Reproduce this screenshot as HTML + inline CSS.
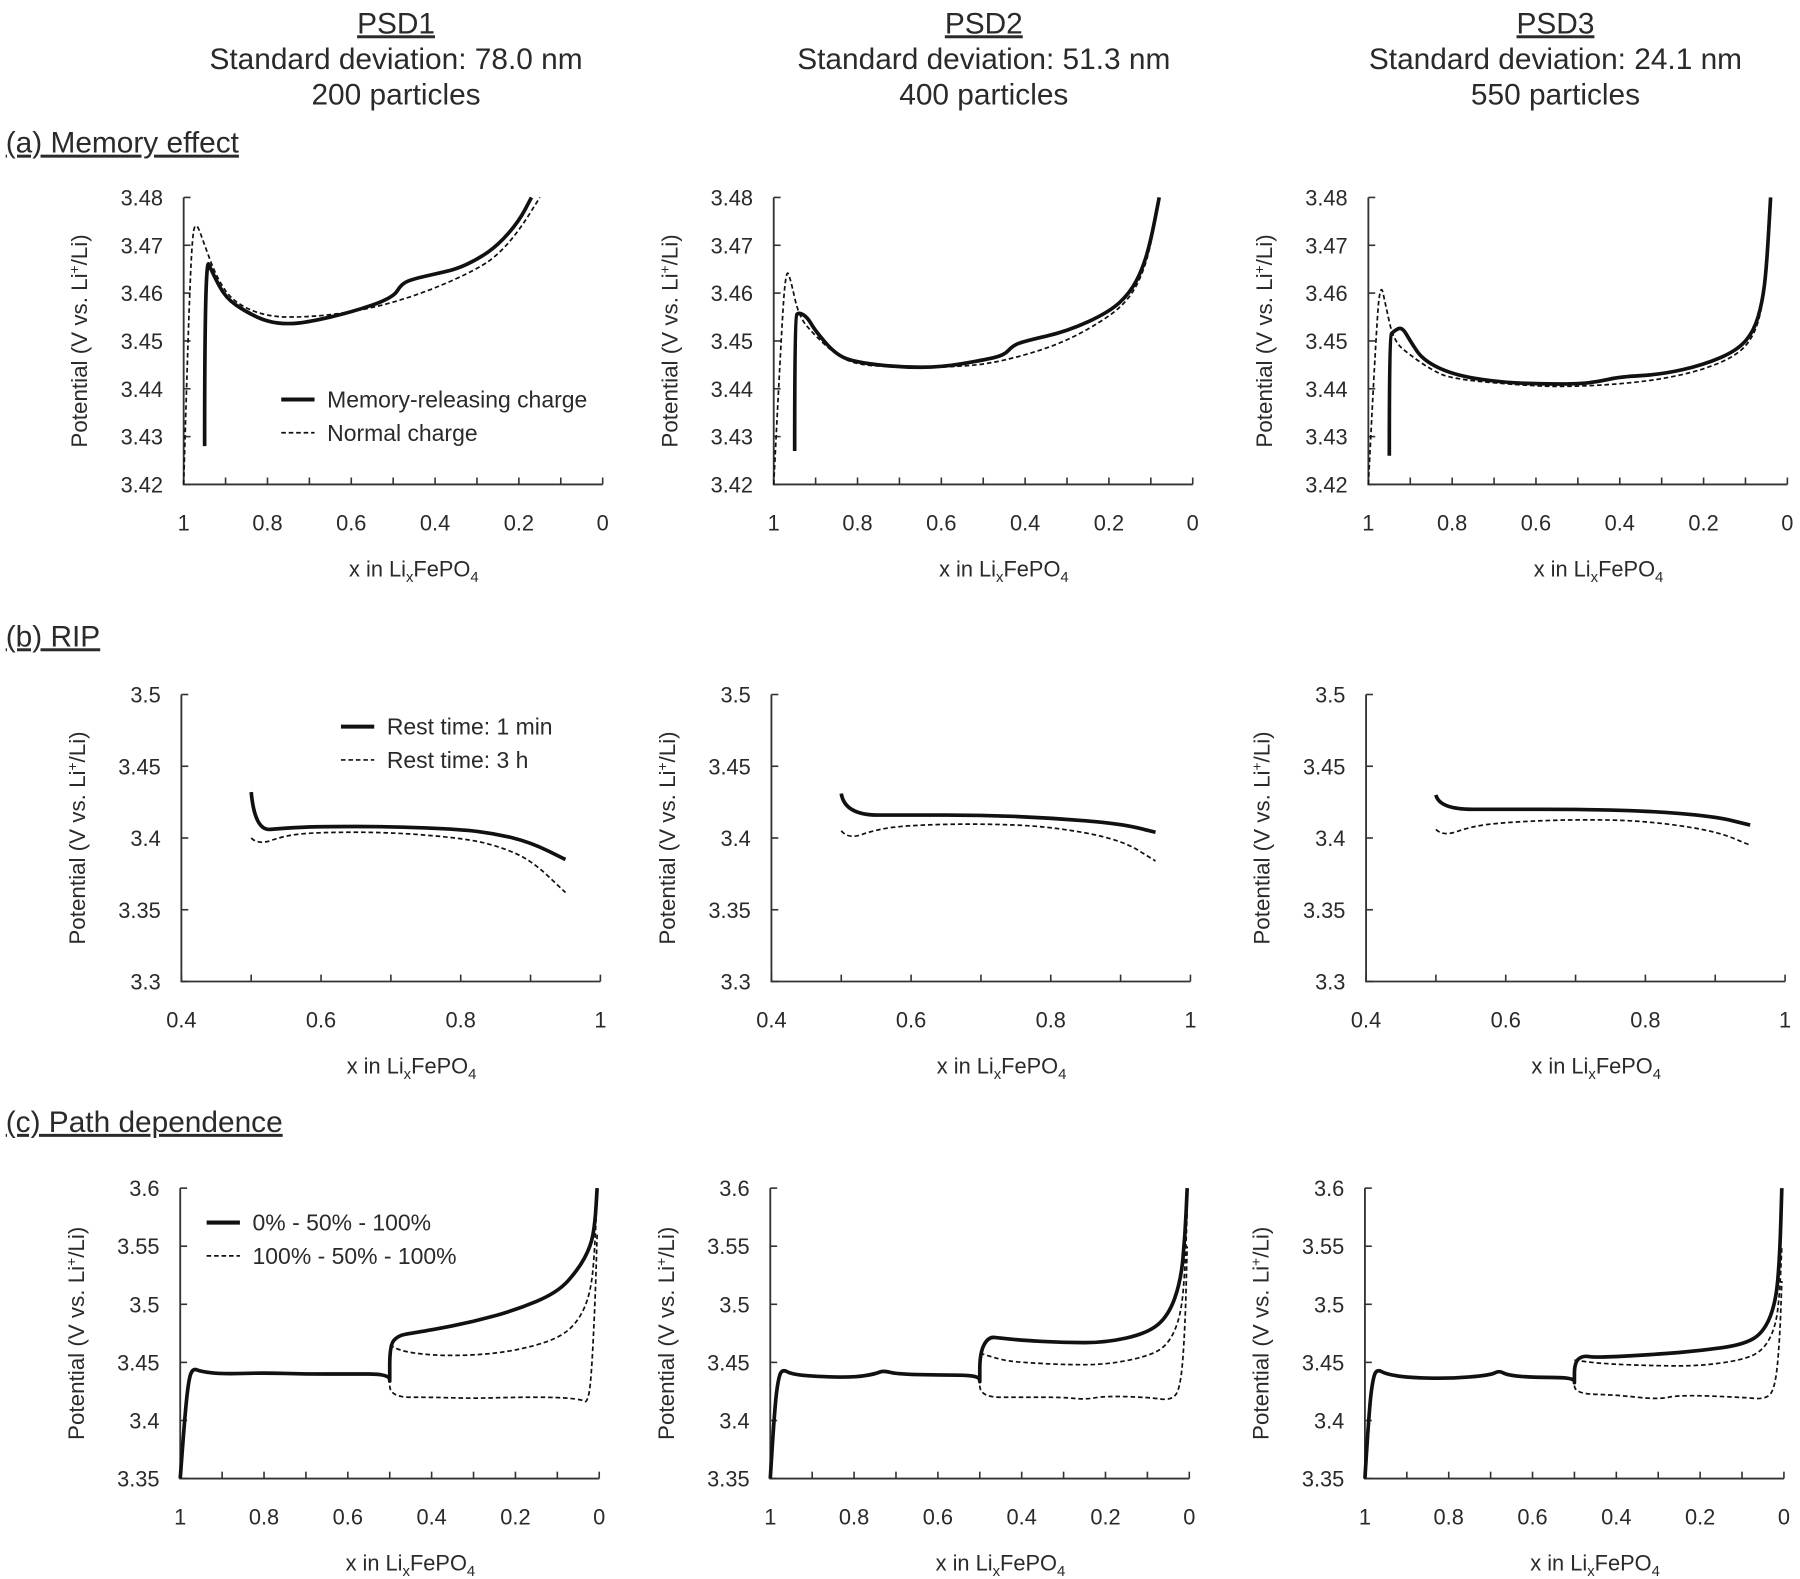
<!DOCTYPE html>
<html><head><meta charset="utf-8">
<style>
html,body{margin:0;padding:0;background:#fff;}
svg{display:block;}
text{font-family:"Liberation Sans",sans-serif;fill:#2a2a2a;}
</style></head>
<body>
<svg id="fig" width="1800" height="1579" viewBox="0 0 1568 1375.5" preserveAspectRatio="none" xmlns="http://www.w3.org/2000/svg">
<g font-size="26" text-anchor="middle">
  <text x="345" y="29" text-decoration="underline">PSD1</text>
  <text x="345" y="60">Standard deviation: 78.0 nm</text>
  <text x="345" y="91">200 particles</text>
  <text x="857" y="29" text-decoration="underline">PSD2</text>
  <text x="857" y="60">Standard deviation: 51.3 nm</text>
  <text x="857" y="91">400 particles</text>
  <text x="1355" y="29" text-decoration="underline">PSD3</text>
  <text x="1355" y="60">Standard deviation: 24.1 nm</text>
  <text x="1355" y="91">550 particles</text>
</g>
<g font-size="26">
  <text x="5" y="133" text-decoration="underline">(a) Memory effect</text>
  <text x="5" y="563" text-decoration="underline">(b) RIP</text>
  <text x="5" y="986" text-decoration="underline">(c) Path dependence</text>
</g>
<g id="plots"></g>
</svg>
<script>
// ---- Data arrays: [x, potential] pairs ----
const memSolid1 = [[0.95,3.428],[0.95,3.468],[0.93,3.464],[0.9,3.459],[0.85,3.456],[0.8,3.454],[0.75,3.4535],[0.7,3.454],[0.6,3.456],[0.5,3.459],[0.48,3.462],[0.45,3.463],[0.4,3.464],[0.35,3.465],[0.3,3.467],[0.25,3.47],[0.2,3.475],[0.17,3.48]];
const memDash1 = [[1,3.42],[0.99,3.45],[0.98,3.472],[0.97,3.475],[0.95,3.47],[0.92,3.463],[0.88,3.458],[0.8,3.455],[0.7,3.455],[0.6,3.456],[0.5,3.458],[0.4,3.461],[0.3,3.465],[0.25,3.468],[0.2,3.473],[0.15,3.48]];
const memSolid2 = [[0.95,3.427],[0.95,3.455],[0.94,3.456],[0.92,3.455],[0.9,3.452],[0.85,3.447],[0.8,3.4455],[0.7,3.4445],[0.6,3.4445],[0.5,3.446],[0.45,3.447],[0.43,3.449],[0.4,3.45],[0.3,3.452],[0.2,3.456],[0.15,3.46],[0.12,3.465],[0.1,3.471],[0.08,3.48]];
const memDash2 = [[1,3.42],[0.98,3.455],[0.97,3.465],[0.96,3.463],[0.94,3.455],[0.9,3.451],[0.85,3.447],[0.8,3.445],[0.7,3.4445],[0.6,3.4445],[0.5,3.445],[0.4,3.447],[0.3,3.45],[0.2,3.455],[0.15,3.459],[0.12,3.464],[0.1,3.47],[0.08,3.48]];
const memSolid3 = [[0.95,3.426],[0.95,3.451],[0.94,3.452],[0.92,3.453],[0.9,3.45],[0.87,3.446],[0.8,3.443],[0.7,3.4415],[0.6,3.441],[0.5,3.441],[0.45,3.4415],[0.4,3.4425],[0.3,3.443],[0.2,3.445],[0.12,3.448],[0.08,3.452],[0.06,3.458],[0.05,3.465],[0.04,3.48]];
const memDash3 = [[1,3.42],[0.98,3.455],[0.97,3.462],[0.96,3.458],[0.94,3.45],[0.9,3.447],[0.85,3.444],[0.8,3.442],[0.6,3.4405],[0.5,3.4405],[0.4,3.441],[0.3,3.442],[0.2,3.444],[0.12,3.447],[0.08,3.451],[0.06,3.457],[0.05,3.465],[0.04,3.48]];

const ripSolid1 = [[0.5,3.432],[0.505,3.405],[0.55,3.407],[0.6,3.408],[0.7,3.408],[0.8,3.406],[0.85,3.403],[0.9,3.397],[0.95,3.385]];
const ripDash1 = [[0.5,3.4],[0.51,3.395],[0.55,3.402],[0.6,3.404],[0.7,3.404],[0.8,3.4],[0.85,3.395],[0.9,3.385],[0.95,3.362]];
const ripSolid2 = [[0.5,3.431],[0.505,3.416],[0.6,3.416],[0.7,3.416],[0.8,3.414],[0.9,3.41],[0.95,3.404]];
const ripDash2 = [[0.5,3.405],[0.51,3.399],[0.55,3.406],[0.6,3.409],[0.7,3.41],[0.8,3.408],[0.9,3.399],[0.95,3.384]];
const ripSolid3 = [[0.5,3.43],[0.505,3.42],[0.6,3.42],[0.7,3.42],[0.8,3.419],[0.9,3.415],[0.95,3.409]];
const ripDash3 = [[0.5,3.406],[0.51,3.401],[0.55,3.408],[0.6,3.411],[0.7,3.413],[0.8,3.412],[0.9,3.405],[0.95,3.395]];

const pathSolid1 = [[1,3.35],[0.99,3.4],[0.98,3.435],[0.97,3.445],[0.95,3.442],[0.9,3.44],[0.8,3.441],[0.7,3.44],[0.6,3.44],[0.5,3.44],[0.5,3.43],[0.5,3.465],[0.48,3.473],[0.45,3.475],[0.4,3.478],[0.3,3.485],[0.2,3.495],[0.1,3.51],[0.05,3.53],[0.02,3.55],[0.01,3.57],[0.005,3.6]];
const pathDashA1 = [[0.5,3.465],[0.48,3.46],[0.4,3.456],[0.3,3.456],[0.2,3.46],[0.1,3.47],[0.05,3.485],[0.02,3.51],[0.01,3.55],[0.005,3.6]];
const pathDashB1 = [[0.5,3.43],[0.5,3.42],[0.4,3.42],[0.3,3.419],[0.2,3.42],[0.1,3.42],[0.04,3.418],[0.03,3.415],[0.02,3.43],[0.01,3.5],[0.005,3.56]];
const pathSolid2 = [[1,3.35],[0.99,3.41],[0.98,3.438],[0.97,3.444],[0.95,3.44],[0.9,3.438],[0.8,3.437],[0.75,3.44],[0.73,3.443],[0.7,3.44],[0.6,3.439],[0.5,3.439],[0.5,3.43],[0.5,3.458],[0.48,3.472],[0.45,3.471],[0.4,3.469],[0.3,3.467],[0.2,3.467],[0.1,3.475],[0.05,3.49],[0.02,3.52],[0.01,3.56],[0.005,3.6]];
const pathDashA2 = [[0.5,3.458],[0.45,3.452],[0.4,3.45],[0.3,3.448],[0.2,3.448],[0.1,3.455],[0.05,3.465],[0.02,3.49],[0.01,3.53],[0.005,3.58]];
const pathDashB2 = [[0.5,3.43],[0.5,3.42],[0.4,3.42],[0.3,3.42],[0.25,3.418],[0.2,3.421],[0.1,3.42],[0.04,3.417],[0.02,3.43],[0.01,3.48],[0.005,3.55]];
const pathSolid3 = [[1,3.35],[0.99,3.41],[0.98,3.438],[0.97,3.444],[0.95,3.44],[0.9,3.437],[0.8,3.436],[0.7,3.439],[0.68,3.443],[0.66,3.439],[0.6,3.437],[0.5,3.437],[0.5,3.43],[0.5,3.45],[0.48,3.456],[0.45,3.454],[0.3,3.457],[0.2,3.46],[0.1,3.465],[0.05,3.475],[0.02,3.5],[0.01,3.54],[0.005,3.6]];
const pathDashA3 = [[0.5,3.452],[0.45,3.449],[0.3,3.447],[0.2,3.447],[0.1,3.452],[0.05,3.46],[0.02,3.48],[0.01,3.51],[0.005,3.55]];
const pathDashB3 = [[0.5,3.43],[0.5,3.423],[0.4,3.422],[0.3,3.418],[0.25,3.422],[0.1,3.42],[0.04,3.418],[0.02,3.43],[0.01,3.47],[0.005,3.52]];

// ---- Axis/tick label arrays ----
const memYTicks = [3.42,3.43,3.44,3.45,3.46,3.47,3.48];
const memYLabels = ["3.42","3.43","3.44","3.45","3.46","3.47","3.48"];
const revXTicks = [1,0.8,0.6,0.4,0.2,0];
const revXLabels = ["1","0.8","0.6","0.4","0.2","0"];
const ripYTicks = [3.3,3.35,3.4,3.45,3.5];
const ripYLabels = ["3.3","3.35","3.4","3.45","3.5"];
const ripXTicks = [0.4,0.6,0.8,1];
const ripXLabels = ["0.4","0.6","0.8","1"];
const pathYTicks = [3.35,3.4,3.45,3.5,3.55,3.6];
const pathYLabels = ["3.35","3.4","3.45","3.5","3.55","3.6"];

const memLegend = ["Memory-releasing charge","Normal charge"];
const ripLegend = ["Rest time: 1 min","Rest time: 3 h"];
const pathLegend = ["0% - 50% - 100%","100% - 50% - 100%"];

const NS = "http://www.w3.org/2000/svg";
const root = document.getElementById("plots");
function mk(tag, attrs, parent){const e=document.createElementNS(NS,tag);for(const k in attrs)e.setAttribute(k,attrs[k]);parent.appendChild(e);return e;}

const colLeft = [160,674,1192];
const W = 365;

function smoothPath(pts){
  if(pts.length<3) return pts.map((p,i)=>(i?"L":"M")+p[0].toFixed(2)+","+p[1].toFixed(2)).join(" ");
  let d = "M"+pts[0][0].toFixed(2)+","+pts[0][1].toFixed(2);
  for(let i=1;i<pts.length-1;i++){
    const mx=(pts[i][0]+pts[i+1][0])/2, my=(pts[i][1]+pts[i+1][1])/2;
    d += " Q"+pts[i][0].toFixed(2)+","+pts[i][1].toFixed(2)+" "+mx.toFixed(2)+","+my.toFixed(2);
  }
  const l=pts[pts.length-1];
  d += " L"+l[0].toFixed(2)+","+l[1].toFixed(2);
  return d;
}

function drawPanel(id, left, top, bottom, xmin, xmax, reversed, ymin, ymax, yTicks, yLabels, xTicks, xLabels, minorStep, series, legend, legendPos){
  const g = mk("g",{},root);
  
  
  const sx = v => reversed ? left + (xmax - v)/(xmax-xmin)*W : left + (v - xmin)/(xmax-xmin)*W;
  const sy = v => bottom - (v - ymin)/(ymax-ymin)*(bottom-top);
  const ax = mk("path",{d:`M${left},${top} V${bottom} H${left+W}`,stroke:"#333","stroke-width":1.6,fill:"none"},g);
  
  
  yTicks.forEach((t,i)=>{
    mk("line",{x1:left,x2:left+6,y1:sy(t),y2:sy(t),stroke:"#333","stroke-width":1.4},g);
    const tx = mk("text",{x:left-18,y:sy(t)+7,"font-size":19,"text-anchor":"end"},g);
    tx.textContent = yLabels[i];
    
    
  });
  for(let v=xmin; v<=xmax+1e-9; v+=minorStep){
    mk("line",{x1:sx(v),x2:sx(v),y1:bottom,y2:bottom-6,stroke:"#333","stroke-width":1.4},g);
  }
  xTicks.forEach((t,i)=>{
    const tx = mk("text",{x:sx(t),y:bottom+40,"font-size":19,"text-anchor":"middle"},g);
    tx.textContent = xLabels[i];
    
    
  });
  const xt = mk("text",{x:left+W/2+18,y:bottom+80,"font-size":19,"text-anchor":"middle"},g);
  xt.innerHTML = 'x in Li<tspan font-size="13" dy="5">x</tspan><tspan dy="-5">FePO</tspan><tspan font-size="13" dy="5">4</tspan>';
  
  
  const ymid = (top+bottom)/2;
  const yt = mk("text",{x:0,y:0,"font-size":19.5,"text-anchor":"middle",transform:`translate(${left-84},${ymid}) rotate(-90)`},g);
  yt.innerHTML = 'Potential (V vs. Li<tspan font-size="12" dy="-7">+</tspan><tspan dy="7">/Li)</tspan>';
  
  
  series.forEach(s=>{
    const pts = s.data.map(p=>[sx(p[0]),sy(p[1])]);
    const p = mk("path",{d:smoothPath(pts),fill:"none",stroke:"#111","stroke-width":s.solid?3.2:1.5,"stroke-dasharray":s.solid?"none":"4 2.5","stroke-linejoin":"round"},g);
    
    
  });
  if(legend){
    const [lx,ly] = legendPos;
    const lg = mk("g",{},g);
    
    
    legend.forEach((lab,i)=>{
      const y = ly + i*29;
      mk("line",{x1:lx,x2:lx+29,y1:y,y2:y,stroke:"#111","stroke-width":i?1.5:3.5,"stroke-dasharray":i?"4 2.5":"none"},lg);
      const t = mk("text",{x:lx+40,y:y+7,"font-size":20},lg);
      t.textContent = lab;
      
      
    });
  }
}

const memS=[memSolid1,memSolid2,memSolid3], memD=[memDash1,memDash2,memDash3];
const ripS=[ripSolid1,ripSolid2,ripSolid3], ripD=[ripDash1,ripDash2,ripDash3];
const pS=[pathSolid1,pathSolid2,pathSolid3], pA=[pathDashA1,pathDashA2,pathDashA3], pB=[pathDashB1,pathDashB2,pathDashB3];
for(let c=0;c<3;c++){
  drawPanel("memory-panel-psd"+(c+1), colLeft[c], 172, 422, 0, 1, true, 3.42, 3.48, memYTicks, memYLabels, revXTicks, revXLabels, 0.1,
    [{data:memD[c],solid:false,name:"normal-charge-line"},{data:memS[c],solid:true,name:"memory-releasing-line"}],
    c===0?memLegend:null,[245,348]);
  drawPanel("rip-panel-psd"+(c+1), colLeft[c]-2, 605, 855, 0.4, 1, false, 3.3, 3.5, ripYTicks, ripYLabels, ripXTicks, ripXLabels, 0.1,
    [{data:ripD[c],solid:false,name:"rest-3h-line"},{data:ripS[c],solid:true,name:"rest-1min-line"}],
    c===0?ripLegend:null,[297,633]);
  drawPanel("path-panel-psd"+(c+1), colLeft[c]-3, 1035, 1288, 0, 1, true, 3.35, 3.6, pathYTicks, pathYLabels, revXTicks, revXLabels, 0.1,
    [{data:pA[c],solid:false,name:"path-100-50-100-upper"},{data:pB[c],solid:false,name:"path-100-50-100-lower"},{data:pS[c],solid:true,name:"path-0-50-100-line"}],
    c===0?pathLegend:null,[180,1065]);
}
</script>
</body></html>
